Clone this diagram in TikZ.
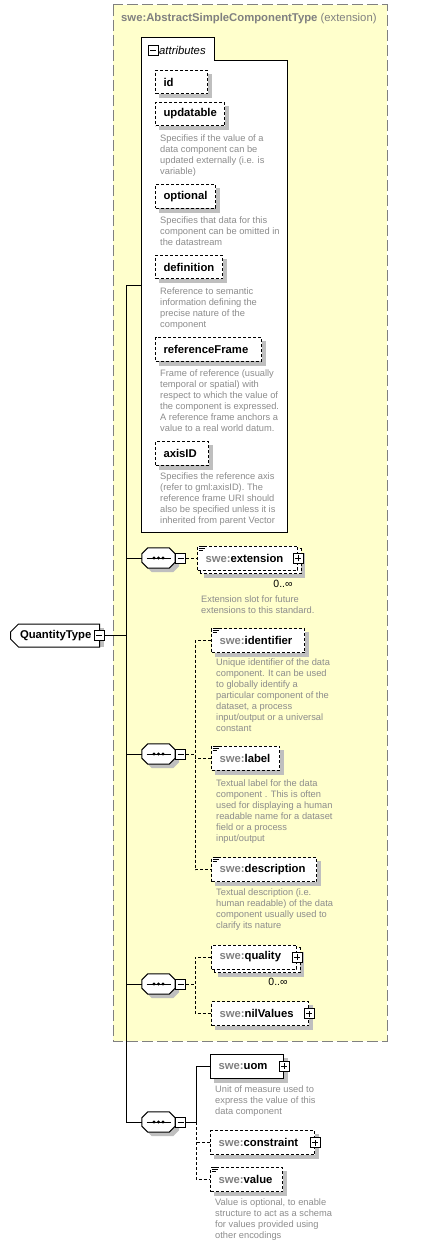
\documentclass[tikz,border=0pt]{standalone}
\usepackage{fontspec}
\setmainfont{Liberation Sans}
\usetikzlibrary{
    positioning,
    calc,
    shapes.misc
}
\pgfdeclarelayer{bg}
\pgfdeclarelayer{shadow}
\pgfsetlayers{bg,shadow,main}
\definecolor{extyellow}{RGB}{255,255,204}
\definecolor{frgray}{RGB}{128,128,128}
\definecolor{docgray}{RGB}{140,140,140}
\colorlet{shgray}{black!25}
\tikzset{
  shd/.style   = {preaction={fill=shgray, draw=none,
                  transform canvas={xshift=4pt, yshift=-4pt}}},
  elem/.style  = {draw, dash pattern=on 3pt off 2pt, line width=1pt,
                  fill=white, anchor=west, minimum height=24pt,
                  inner xsep=8pt, inner ysep=0pt, text width=#1pt,
                  align=left, font=\fontsize{11.3}{13}\selectfont\bfseries},
  pbox/.style  = {draw, solid, line width=1pt, fill=white, minimum size=10pt,
                  inner sep=0pt, path picture={
                    \draw[line width=0.9pt]
                      ([xshift=-3pt]path picture bounding box.center)
                      -- ([xshift=3pt]path picture bounding box.center)
                      ([yshift=-3pt]path picture bounding box.center)
                      -- ([yshift=3pt]path picture bounding box.center);}},
  mbox/.style  = {draw, solid, line width=1pt, fill=white, minimum size=10pt,
                  inner sep=0pt, path picture={
                    \draw[line width=0.9pt]
                      ([xshift=-3pt]path picture bounding box.center)
                      -- ([xshift=3pt]path picture bounding box.center);}},
  dsc/.style   = {anchor=north west, inner sep=0pt, align=left,
                  font=\fontsize{9.3}{11}\selectfont, text=docgray},
  conn/.style  = {line width=1pt},
  dconn/.style = {line width=1pt, dash pattern=on 3pt off 2pt}
}
\newcommand{\swe}[1]{\textcolor{frgray}{swe:}#1}
\newcommand{\docmark}[1]{%
  \foreach \dy/\len in {0.5/6,2.5/6,4.5/4}
    \draw[line width=0.8pt] ([xshift=1.5pt, yshift=-\dy pt]#1.north west)
      -- ++(\len pt,0pt);
}
\newcommand{\seqshape}[1]{%
  \draw[line width=1pt, fill=white, shd]
    ([xshift=6pt]#1.north west) -- ([xshift=-6pt]#1.north east)
    -- ([yshift=-6pt]#1.north east) -- ([yshift=6pt]#1.south east)
    -- ([xshift=-6pt]#1.south east) -- ([xshift=6pt]#1.south west)
    -- ([yshift=6pt]#1.south west) -- ([yshift=-6pt]#1.north west) -- cycle;
  \draw[line width=1pt] ([xshift=-12pt]#1.center) -- ([xshift=12pt]#1.center);
  \foreach \dx in {-4.5,0,4.5}
    \fill ([xshift=\dx pt]#1.center) circle (1.7pt);
}
\newcommand{\boxshadow}[2]{%
  \fill[shgray] ([xshift=#2pt, yshift=-#2pt]#1.south west)
    rectangle ([xshift=#2pt, yshift=-#2pt]#1.north east);
}

\begin{document}
\begin{tikzpicture}[x=1pt, y=-1pt,
  extframe/.style={draw=frgray, fill=extyellow, line width=1pt,
    dash pattern=on 11pt off 4pt},
  attframe/.style={draw, fill=white, line width=1pt},
  attr/.style={elem=#1, minimum height=23.5pt},
  seqbox/.style={rectangle, minimum width=33pt, minimum height=20pt,
    inner sep=0pt},
  qtbox/.style={chamfered rectangle, chamfered rectangle corners={north west,south west},
    chamfered rectangle xsep=4pt, chamfered rectangle ysep=4pt, draw,
    line width=1pt, fill=white, minimum width=89pt, minimum height=23pt,
    inner xsep=5pt, inner ysep=0pt, text width=70pt, align=left,
    font=\fontsize{11.3}{13}\selectfont\bfseries},
  card/.style={font=\fontsize{10.5}{12}\selectfont, inner sep=0pt}
]
\useasboundingbox (0,0) rectangle (430,1247);

%% base type
\begin{pgfonlayer}{bg}
\draw[extframe] (113,5) rectangle (387,1041);
\draw[attframe] (141,532) -- (141,38) -- (214,38) -- (214,61) -- (287,61)
  -- (287,532) -- cycle;
\end{pgfonlayer}
\node[anchor=west, inner sep=0pt, text=frgray, font=\fontsize{11.3}{13}\selectfont]
  (base) at (121,19) {\textbf{swe:AbstractSimpleComponentType} (extension)};

%% attributes
\node[mbox] (attm) at (153,50.5) {};
\node[anchor=west, inner sep=0pt, font=\fontsize{11.3}{13}\selectfont\itshape]
  (atttab) at (159,50.5) {attributes};
\coordinate (attin) at (141,285);

\node[attr=36] (id)        at (155,82)    {id};
\node[attr=53] (updatable) at (155,114)   {updatable};
\node[dsc]     (dupd)      at (160,134.5) {Specifies if the value of a\\data component can be\\updated externally (i.e. is\\variable)};
\node[attr=44] (optional)  at (155,196.5) {optional};
\node[dsc]     (dopt)      at (160,216.5) {Specifies that data for this\\component can be omitted in\\the datastream};
\node[attr=51] (definition) at (155,267)  {definition};
\node[dsc]     (ddef)      at (160,287.5) {Reference to semantic\\information defining the\\precise nature of the\\component};
\node[attr=90] (refframe)  at (155,349.5) {referenceFrame};
\node[dsc]     (dref)      at (160,369.5) {Frame of reference (usually\\temporal or spatial) with\\respect to which the value of\\the component is expressed.\\A reference frame anchors a\\value to a real world datum.};
\node[attr=37] (axisid)    at (155,453.5) {axisID};
\node[dsc]     (daxis)     at (160,473)   {Specifies the reference axis\\(refer to gml:axisID). The\\reference frame URI should\\also be specified unless it is\\inherited from parent Vector};

%% complex type
\node[qtbox] (qt)  at (55,635.5) {QuantityType};
\node[mbox]  (qtm) at ([xshift=-1pt]qt.east) {};

%% sequences
\node[seqbox] (seq1) at (158.5,558) {};
\seqshape{seq1}
\node[mbox, right=0pt of seq1] (seq1m) {};
\node[seqbox] (seq2) at (158.5,754) {};
\seqshape{seq2}
\node[mbox, right=0pt of seq2] (seq2m) {};
\node[seqbox] (seq3) at (158.5,984) {};
\seqshape{seq3}
\node[mbox, right=0pt of seq3] (seq3m) {};
\node[seqbox] (seq4) at (158.5,1122) {};
\seqshape{seq4}
\node[mbox, right=0pt of seq4] (seq4m) {};

%% elements
\node[elem=84] (ext) at (197,558) {\swe{extension}};
\node[pbox] (extp) at (ext.east) {};
\node[card] (extc) at (283,583.5) {0..∞};
\node[dsc]  (dext) at (201,595.5) {Extension slot for future\\extensions to this standard.};

\node[elem=77] (ident) at (211,640.5) {\swe{identifier}};
\node[dsc] (dident) at (216,659) {Unique identifier of the data\\component. It can be used\\to globally identify a\\particular component of the\\dataset, a process\\input/output or a universal\\constant};
\node[elem=52] (label) at (211,758) {\swe{label}};
\node[dsc] (dlabel) at (216,780) {Textual label for the data\\component . This is often\\used for displaying a human\\readable name for a dataset\\field or a process\\input/output};
\node[elem=89] (descr) at (211,869.5) {\swe{description}};
\node[dsc] (ddescr) at (216,888.5) {Textual description (i.e.\\human readable) of the data\\component usually used to\\clarify its nature};

\node[elem=69] (quality) at (211,957) {\swe{quality}};
\node[pbox] (qualp) at (quality.east) {};
\node[card] (qualc) at (278,982) {0..∞};
\node[elem=81] (nil) at (211,1013.5) {\swe{nilValues}};
\node[pbox] (nilp) at (nil.east) {};

\node[elem=57, solid] (uom) at (210,1066) {\swe{uom}};
\node[pbox] (uomp) at (uom.east) {};
\node[dsc] (duom) at (215,1086) {Unit of measure used to\\express the value of this\\data component};
\node[elem=88] (constr) at (210,1142.5) {\swe{constraint}};
\node[pbox] (constrp) at (constr.east) {};
\node[elem=56] (value) at (210,1179.5) {\swe{value}};
\node[dsc] (dvalue) at (215,1199) {Value is optional, to enable\\structure to act as a schema\\for values provided using\\other encodings};

\docmark{ext}
\docmark{ident}
\docmark{label}
\docmark{descr}
\docmark{value}

%% shadows and stacked copies
\begin{pgfonlayer}{shadow}
\foreach \n in {id,updatable,optional,definition,refframe,axisid,qt,
                ident,label,descr,nil,uom,constr,value}
  {\boxshadow{\n}{4}}
\foreach \n in {ext,quality} {
  \boxshadow{\n}{7}
  \draw[line width=1pt, dash pattern=on 3pt off 2pt, fill=white]
    ([xshift=3pt, yshift=-3pt]\n.south west)
    rectangle ([xshift=3pt, yshift=-3pt]\n.north east);
}
\end{pgfonlayer}

%% trunk
\coordinate (trunktop) at (126,285);
\coordinate (trunkbot) at (126,1122);
\draw[conn] (qtm.east) -- (qtm.east -| trunktop);
\draw[conn] (attin) -- (trunktop) -- (trunkbot) -- (seq4.west);
\draw[conn] (seq1.west) -- (seq1.west -| trunktop);
\draw[conn] (seq2.west) -- (seq2.west -| trunktop);
\draw[conn] (seq3.west) -- (seq3.west -| trunktop);

%% sequence children
\draw[dconn] (seq1m.east) -- (ext.west);
\coordinate (s2j) at (195,754);
\draw[dconn] (seq2m.east) -- (s2j);
\draw[dconn] (ident.west) -| (s2j) |- (descr.west);
\draw[dconn] (label.west) -- (label.west -| s2j);
\coordinate (s3j) at (195,984);
\draw[dconn] (seq3m.east) -- (s3j);
\draw[dconn] (quality.west) -| (s3j) |- (nil.west);
\coordinate (s4j) at (196,1122);
\draw[conn] (seq4m.east) -- (s4j) |- (uom.west);
\draw[dconn] (s4j) |- (value.west);
\draw[dconn] (constr.west) -- (constr.west -| s4j);

\end{tikzpicture}
\end{document}
